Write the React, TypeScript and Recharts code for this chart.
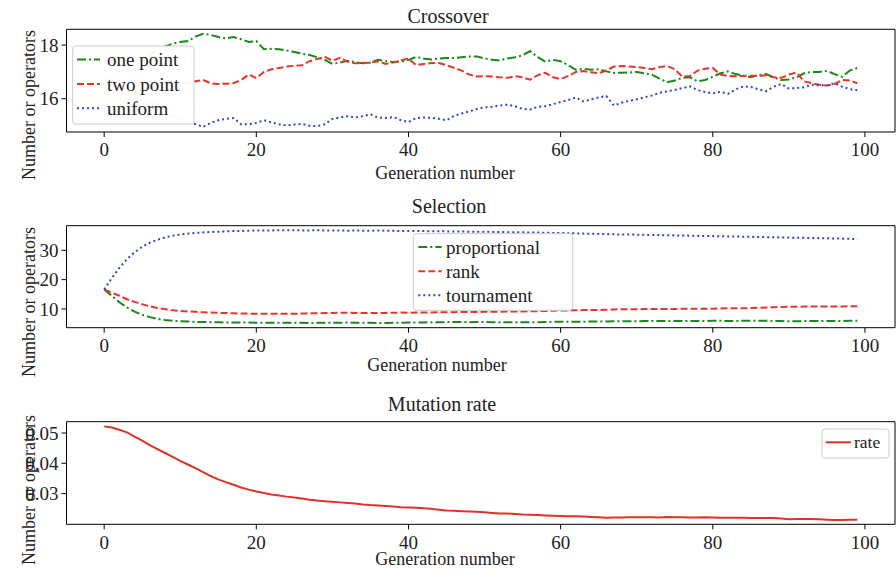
import { LineChart, Line, XAxis, YAxis, ReferenceArea } from "recharts";

// crossover operator counts per generation
const onePoint = [
  16.67, 16.8, 17.0, 17.2, 17.35, 17.5, 17.65, 17.8, 17.95, 18.05,
  18.12, 18.15, 18.32, 18.42, 18.38, 18.3, 18.25, 18.3, 18.22, 18.12,
  18.15, 17.85, 17.86, 17.85, 17.8, 17.74, 17.68, 17.63, 17.55, 17.45,
  17.3, 17.35, 17.42, 17.36, 17.32, 17.35, 17.45, 17.4, 17.37, 17.38,
  17.45, 17.56, 17.5, 17.46, 17.5, 17.52, 17.52, 17.55, 17.58, 17.58,
  17.5, 17.45, 17.43, 17.5, 17.55, 17.62, 17.78, 17.55, 17.38, 17.45,
  17.4, 17.25, 17.08, 17.12, 17.08, 17.1, 17.02, 16.96, 16.97, 16.98,
  17.0, 16.95, 16.9, 16.75, 16.62, 16.68, 16.78, 16.8, 16.65, 16.7,
  16.82, 16.95, 17.02, 16.92, 16.86, 16.8, 16.88, 16.92, 16.8, 16.7,
  16.72, 16.8, 16.95, 17.0, 17.0, 17.04, 16.92, 16.82, 17.05, 17.15,
];
const twoPoint = [
  16.67, 16.65, 16.6, 16.62, 16.55, 16.6, 16.58, 16.55, 16.6, 16.62,
  16.58, 16.6, 16.65, 16.7, 16.58, 16.55, 16.56, 16.58, 16.7, 16.9,
  16.77, 17.0, 17.1, 17.15, 17.2, 17.23, 17.25, 17.4, 17.48, 17.56,
  17.42, 17.53, 17.38, 17.32, 17.33, 17.35, 17.4, 17.3, 17.35, 17.43,
  17.5, 17.25, 17.3, 17.33, 17.33, 17.25, 17.15, 17.05, 16.9, 16.83,
  16.84, 16.83, 16.8, 16.78, 16.84, 16.8, 16.71, 16.88, 16.97, 16.8,
  16.73, 16.85, 17.0, 17.03, 16.99, 16.95, 17.05, 17.2, 17.22, 17.2,
  17.18, 17.15, 17.1, 17.18, 17.22, 17.1, 16.82, 16.85, 17.05, 17.12,
  17.15, 16.9, 16.85, 16.84, 16.85, 16.86, 16.86, 16.87, 16.8, 16.78,
  16.9, 16.98, 16.65, 16.58, 16.52, 16.49, 16.55, 16.7, 16.68, 16.58,
];
const uniform = [
  16.67, 16.5, 16.35, 16.2, 16.05, 15.9, 15.75, 15.6, 15.45, 15.35,
  15.25, 15.15, 15.05, 14.95, 15.1, 15.2, 15.25, 15.28, 15.05, 15.05,
  15.1, 15.2, 15.12, 15.05, 15.0, 15.04, 15.06, 14.99, 14.98, 15.05,
  15.25, 15.3, 15.35, 15.3, 15.35, 15.42, 15.3, 15.28, 15.32, 15.2,
  15.13, 15.28, 15.3, 15.29, 15.25, 15.2, 15.36, 15.45, 15.53, 15.62,
  15.68, 15.7, 15.75, 15.78, 15.72, 15.62, 15.6, 15.7, 15.72, 15.8,
  15.88, 15.95, 16.05, 15.9, 15.98, 16.05, 16.1, 15.75, 15.85, 15.92,
  15.98, 16.05, 16.12, 16.22, 16.28, 16.33, 16.4, 16.46, 16.32, 16.25,
  16.2, 16.26, 16.18, 16.35, 16.46, 16.44, 16.35, 16.28, 16.45, 16.55,
  16.38, 16.4, 16.43, 16.52, 16.5, 16.5, 16.58, 16.45, 16.36, 16.32,
];

// selection operator counts per generation
const proportional = [
  16.67, 14.5, 12.3, 10.5, 9.1, 8.0, 7.2, 6.6, 6.2, 5.95,
  5.8, 5.7, 5.6, 5.55, 5.5, 5.45, 5.4, 5.4, 5.35, 5.35,
  5.3, 5.3, 5.25, 5.3, 5.3, 5.25, 5.25, 5.2, 5.25, 5.25,
  5.3, 5.3, 5.35, 5.3, 5.3, 5.25, 5.2, 5.2, 5.25, 5.3,
  5.35, 5.4, 5.4, 5.45, 5.5, 5.5, 5.55, 5.55, 5.5, 5.55,
  5.55, 5.5, 5.5, 5.45, 5.45, 5.45, 5.5, 5.5, 5.55, 5.6,
  5.6, 5.6, 5.65, 5.65, 5.7, 5.7, 5.75, 5.8, 5.8, 5.8,
  5.8, 5.85, 5.85, 5.85, 5.85, 5.9, 5.9, 5.85, 5.85, 5.9,
  5.95, 5.95, 5.9, 5.9, 5.95, 5.95, 6.0, 5.95, 5.9, 5.85,
  5.8, 5.8, 5.85, 5.85, 5.85, 5.85, 5.9, 5.9, 5.95, 5.95,
];
const rank = [
  16.67, 15.5, 14.5, 13.3, 12.4, 11.6, 10.9, 10.3, 9.9, 9.55,
  9.3, 9.15, 9.0, 8.85, 8.75, 8.65, 8.6, 8.5, 8.45, 8.4,
  8.4, 8.35, 8.4, 8.35, 8.4, 8.35, 8.45, 8.5, 8.55, 8.6,
  8.65, 8.7, 8.7, 8.65, 8.6, 8.6, 8.6, 8.65, 8.7, 8.75,
  8.7, 8.75, 8.8, 8.8, 8.85, 8.9, 8.9, 8.95, 8.95, 8.95,
  9.0, 9.0, 9.05, 9.1, 9.1, 9.15, 9.2, 9.25, 9.3, 9.4,
  9.5, 9.5, 9.55, 9.6, 9.6, 9.65, 9.75, 9.85, 9.9, 9.9,
  9.9, 9.95, 9.95, 10.0, 10.0, 10.0, 10.05, 10.05, 10.1, 10.1,
  10.1, 10.15, 10.2, 10.2, 10.25, 10.3, 10.4, 10.5, 10.6, 10.7,
  10.75, 10.75, 10.8, 10.8, 10.8, 10.8, 10.85, 10.85, 10.9, 10.9,
];
const tournament = [
  16.67, 20.5, 24.0, 27.0, 29.3, 31.2, 32.6, 33.6, 34.4, 35.0,
  35.4, 35.7, 35.95, 36.1, 36.25, 36.35, 36.45, 36.55, 36.6, 36.7,
  36.75, 36.8, 36.8, 36.85, 36.85, 36.85, 36.8, 36.8, 36.85, 36.8,
  36.75, 36.75, 36.7, 36.75, 36.7, 36.7, 36.75, 36.7, 36.65, 36.6,
  36.6, 36.55, 36.55, 36.5, 36.5, 36.45, 36.4, 36.4, 36.35, 36.35,
  36.3, 36.3, 36.25, 36.2, 36.2, 36.15, 36.1, 36.05, 36.0, 35.95,
  35.9, 35.85, 35.8, 35.7, 35.65, 35.6, 35.55, 35.45, 35.4, 35.4,
  35.35, 35.3, 35.25, 35.2, 35.15, 35.1, 35.05, 35.0, 34.95, 34.9,
  34.85, 34.8, 34.75, 34.7, 34.65, 34.6, 34.55, 34.5, 34.45, 34.4,
  34.35, 34.3, 34.25, 34.2, 34.15, 34.1, 34.05, 34.0, 33.95, 33.8,
];

// mutation rate per generation
const rate = [
  0.0522, 0.0518, 0.0511, 0.0502, 0.0488, 0.0475, 0.046, 0.0447, 0.0434, 0.0421,
  0.0408, 0.0396, 0.0384, 0.0371, 0.0358, 0.0347, 0.0338, 0.0329, 0.032, 0.0313,
  0.0307, 0.0302, 0.0297, 0.0294, 0.029, 0.0287, 0.0284, 0.028, 0.0277, 0.0275,
  0.0273, 0.0271, 0.0269, 0.0267, 0.0264, 0.0262, 0.0261, 0.0259, 0.0257, 0.0255,
  0.0254, 0.0253, 0.0252, 0.025, 0.0247, 0.0244, 0.0243, 0.0242, 0.0241, 0.024,
  0.0238, 0.0236, 0.0234, 0.0234, 0.0233, 0.0231, 0.023, 0.0229, 0.0228, 0.0227,
  0.0226, 0.0225, 0.0225, 0.0224, 0.0223, 0.0222, 0.022, 0.0221, 0.0221, 0.0222,
  0.0222, 0.0222, 0.0222, 0.0221, 0.0223, 0.0222, 0.0222, 0.0221, 0.0221, 0.0222,
  0.0221, 0.022, 0.022, 0.022, 0.022, 0.0219, 0.0219, 0.0219, 0.0219, 0.0218,
  0.0215, 0.0216, 0.0216, 0.0216, 0.0215, 0.0214, 0.0213, 0.0213, 0.0214, 0.0214,
];

const xTicks = [0, 20, 40, 60, 80, 100];
const crossoverTicks = [16, 18];
const selectionTicks = [10, 20, 30];
const rateTicks = [0.03, 0.04, 0.05];

const FONT = '"Liberation Serif", "DejaVu Serif", serif';
const TEXT = "#222";
const GREEN = "#178a17";
const RED = "#e8352b";
const BLUE = "#3344c4";

const DASH_DOT = "9 3 2 3";
const DASHED = "7 3";
const DOTTED = "2 3";

const X_DOMAIN: [number, number] = [-4.95, 103.95];

type Series = { key: string; label: string; values: number[]; color: string; dash?: string };

const crossoverSeries: Series[] = [
  { key: "one", label: "one point", values: onePoint, color: GREEN, dash: DASH_DOT },
  { key: "two", label: "two point", values: twoPoint, color: RED, dash: DASHED },
  { key: "uni", label: "uniform", values: uniform, color: BLUE, dash: DOTTED },
];
const selectionSeries: Series[] = [
  { key: "prop", label: "proportional", values: proportional, color: GREEN, dash: DASH_DOT },
  { key: "rank", label: "rank", values: rank, color: RED, dash: DASHED },
  { key: "tour", label: "tournament", values: tournament, color: BLUE, dash: DOTTED },
];
const rateSeries: Series[] = [{ key: "rate", label: "rate", values: rate, color: "#e03228" }];

function toRows(series: Series[]) {
  return series[0].values.map((_, i) => {
    const row: Record<string, number> = { gen: i };
    series.forEach((s) => (row[s.key] = s.values[i]));
    return row;
  });
}

interface PanelProps {
  top: number;
  height: number;
  marginTop: number;
  marginBottom: number;
  series: Series[];
  yDomain: [number, number];
  yTicks: number[];
}

function Panel({ top, height, marginTop, marginBottom, series, yDomain, yTicks }: PanelProps) {
  const tick = { fontSize: 19, fill: TEXT, fontFamily: FONT };
  return (
    <div style={{ position: "absolute", left: 0, top }}>
      <LineChart
        width={896}
        height={height}
        data={toRows(series)}
        margin={{ top: marginTop, right: 1, bottom: marginBottom, left: 0 }}
      >
        <XAxis
          dataKey="gen"
          type="number"
          domain={X_DOMAIN}
          ticks={xTicks}
          interval={0}
          allowDataOverflow
          height={30}
          axisLine={false}
          tickLine={{ stroke: "#000" }}
          tickSize={5}
          tickMargin={6}
          tick={tick}
        />
        <YAxis
          type="number"
          domain={yDomain}
          ticks={yTicks}
          interval={0}
          allowDataOverflow
          width={66.5}
          axisLine={false}
          tickLine={{ stroke: "#000" }}
          tickSize={5}
          tickMargin={3}
          tick={tick}
        />
        {series.map((s) => (
          <Line
            key={s.key}
            dataKey={s.key}
            type="linear"
            stroke={s.color}
            strokeWidth={2}
            strokeDasharray={s.dash}
            dot={false}
            activeDot={false}
            isAnimationActive={false}
          />
        ))}
        <ReferenceArea
          x1={X_DOMAIN[0]}
          x2={X_DOMAIN[1]}
          y1={yDomain[0]}
          y2={yDomain[1]}
          fill="none"
          fillOpacity={0}
          stroke="#000"
          strokeWidth={1}
          ifOverflow="visible"
        />
      </LineChart>
    </div>
  );
}

interface LegendProps {
  x: number;
  y: number;
  width: number;
  height: number;
  rowY: number[];
  sampleX: [number, number];
  textX: number;
  fontSize: number;
  series: Series[];
}

function LegendBox({ x, y, width, height, rowY, sampleX, textX, fontSize, series }: LegendProps) {
  return (
    <g>
      <rect x={x} y={y} width={width} height={height} rx={3} fill="#fff" fillOpacity={0.96} stroke="#ccc" />
      {series.map((s, i) => (
        <g key={s.key}>
          <line
            x1={sampleX[0]}
            x2={sampleX[1]}
            y1={rowY[i]}
            y2={rowY[i]}
            stroke={s.color}
            strokeWidth={2}
            strokeDasharray={s.dash}
          />
          <text x={textX} y={rowY[i]} dominantBaseline="central" fontSize={fontSize} fill={TEXT}>
            {s.label}
          </text>
        </g>
      ))}
    </g>
  );
}

const titles = [
  { text: "Crossover", x: 448, y: 23 },
  { text: "Selection", x: 449, y: 213 },
  { text: "Mutation rate", x: 442, y: 411 },
];
const xLabels = [
  { x: 445, y: 179 },
  { x: 437, y: 371 },
  { x: 445, y: 565 },
];
const yLabels = [
  { x: 35, y: 105 },
  { x: 35, y: 302 },
  { x: 35, y: 490 },
];

export default function App() {
  return (
    <div style={{ position: "absolute", left: 0, top: 0, width: 896, height: 569, background: "#fff", fontFamily: FONT }}>
      <Panel top={0} height={190} marginTop={29.3} marginBottom={28} series={crossoverSeries} yDomain={[14.76, 18.59]} yTicks={crossoverTicks} />
      <Panel top={190} height={190} marginTop={35.7} marginBottom={22.3} series={selectionSeries} yDomain={[3.6, 38.4]} yTicks={selectionTicks} />
      <Panel top={380} height={189} marginTop={41.7} marginBottom={14.7} series={rateSeries} yDomain={[0.01986, 0.05374]} yTicks={rateTicks} />
      <svg width={896} height={569} style={{ position: "absolute", left: 0, top: 0, pointerEvents: "none", fontFamily: FONT }}>
        {titles.map((t) => (
          <text key={t.text} x={t.x} y={t.y} textAnchor="middle" fontSize={20} fill={TEXT}>
            {t.text}
          </text>
        ))}
        {xLabels.map((l, i) => (
          <text key={`x${i}`} x={l.x} y={l.y} textAnchor="middle" fontSize={18} fill={TEXT}>
            Generation number
          </text>
        ))}
        {yLabels.map((l, i) => (
          <text key={`y${i}`} transform={`translate(${l.x},${l.y}) rotate(-90)`} textAnchor="middle" fontSize={18} fill={TEXT}>
            Number or operators
          </text>
        ))}
        <LegendBox x={72.7} y={46} width={121.3} height={78} rowY={[59.5, 84, 108.3]} sampleX={[77, 100]} textX={107} fontSize={19} series={crossoverSeries} />
        <LegendBox x={413.3} y={233.7} width={159.4} height={76.6} rowY={[247, 271.3, 295.3]} sampleX={[418.3, 441.7]} textX={446} fontSize={19} series={selectionSeries} />
        <LegendBox x={822} y={429} width={67} height={29} rowY={[442.3]} sampleX={[825.7, 851]} textX={854} fontSize={17.5} series={rateSeries} />
      </svg>
    </div>
  );
}
